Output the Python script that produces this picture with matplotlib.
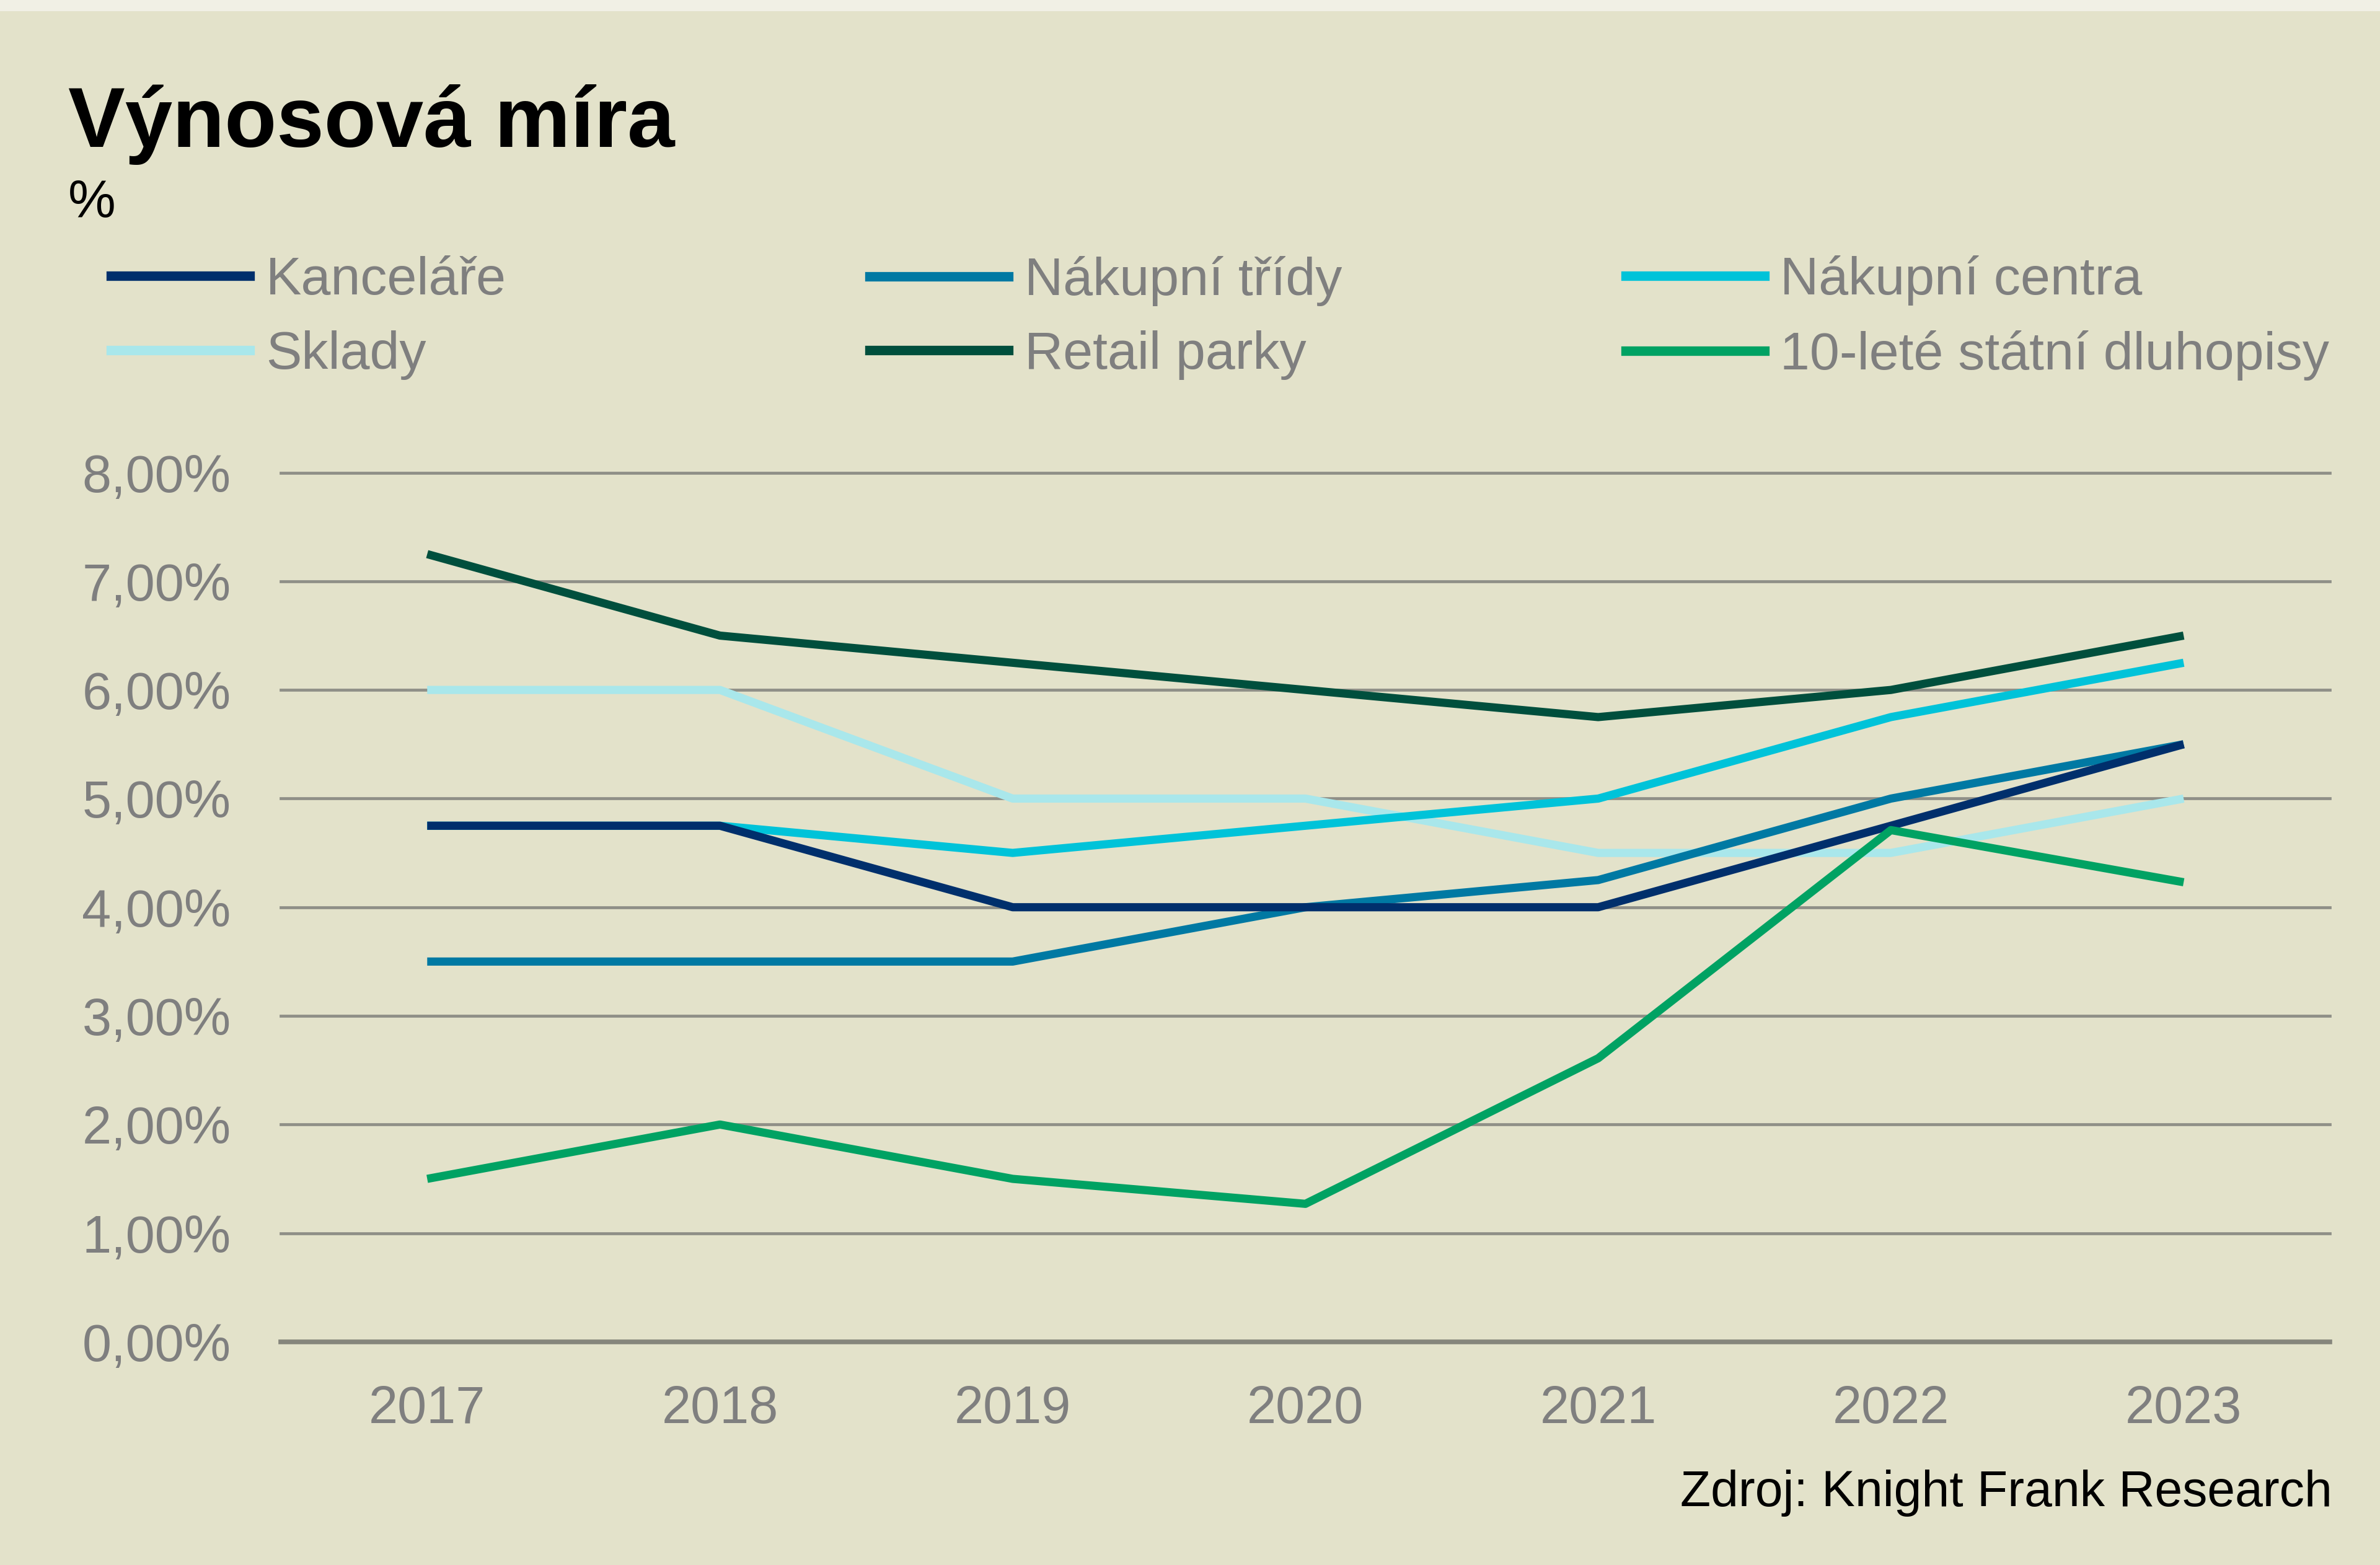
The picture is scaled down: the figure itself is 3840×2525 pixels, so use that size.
import matplotlib
matplotlib.use("Agg")
import matplotlib.pyplot as plt
from matplotlib.patches import Rectangle
from matplotlib.lines import Line2D

years = ["2017", "2018", "2019", "2020", "2021", "2022", "2023"]
kancelare = [4.75, 4.75, 4.00, 4.00, 4.00, 4.75, 5.50]
nakupni_tridy = [3.50, 3.50, 3.50, 4.00, 4.25, 5.00, 5.50]
nakupni_centra = [4.75, 4.75, 4.50, 4.75, 5.00, 5.75, 6.25]
sklady = [6.00, 6.00, 5.00, 5.00, 4.50, 4.50, 5.00]
retail_parky = [7.25, 6.50, 6.25, 6.00, 5.75, 6.00, 6.50]
dluhopisy = [1.50, 2.00, 1.50, 1.27, 2.61, 4.71, 4.23]

yticks = [0, 1, 2, 3, 4, 5, 6, 7, 8]
ytick_labels = ["0,00%", "1,00%", "2,00%", "3,00%", "4,00%", "5,00%", "6,00%", "7,00%", "8,00%"]

names = ["Kanceláře", "Nákupní třídy", "Nákupní centra", "Sklady", "Retail parky", "10-leté státní dluhopisy"]
colors = ["#002F6C", "#0079A3", "#00C3D9", "#A9E7EB", "#004F3D", "#00A263"]
series = [kancelare, nakupni_tridy, nakupni_centra, sklady, retail_parky, dluhopisy]

plt.rcParams['font.family'] = ['Liberation Sans', 'DejaVu Sans']
BG = "#E3E2CA"

fig = plt.figure(figsize=(38.4, 25.25), dpi=100, facecolor=BG)
fig.patches.append(Rectangle((0, 0.993), 1, 0.007, transform=fig.transFigure,
                             facecolor="#F1F0E5", edgecolor="none", zorder=0))

ax = fig.add_axes([0.118, 0.1426, 0.861, 0.5554])
ax.set_facecolor(BG)

x = list(range(len(years)))
order = [3, 2, 1, 0, 4, 5]
for i in order:
    ax.plot(x, series[i], color=colors[i], lw=9.5, solid_capstyle='butt',
            solid_joinstyle='round', zorder=3 + order.index(i), clip_on=False)

ax.set_xlim(-0.5, len(years) - 0.5)
ax.set_ylim(0, 8)
ax.set_yticks(yticks)
ax.set_yticklabels(ytick_labels)
ax.set_xticks(x)
ax.set_xticklabels(years)
for y in yticks[1:]:
    ax.axhline(y, color="#8F8F87", lw=3.4, zorder=1, clip_on=False)
ax.axhline(0, color="#86867C", lw=5.5, zorder=2, clip_on=False)

for s in ax.spines.values():
    s.set_visible(False)
ax.tick_params(axis='both', length=0, colors="#7F7F7F", labelsize=61)
ax.tick_params(axis='y', pad=58)
ax.tick_params(axis='x', pad=50)

# Title
fig.text(0.0287, 0.906, "Výnosová míra", fontsize=99, fontweight='bold', color="black",
         ha='left', va='baseline')
fig.text(0.0287, 0.861, "%", fontsize=62, color="black", ha='left', va='baseline')

# Legend: three columns, row-major
col_x = [0.0466, 0.3654, 0.683]
cols = [[0, 3], [1, 4], [2, 5]]
for cx, idxs in zip(col_x, cols):
    handles = [Line2D([0], [0], color=colors[i], lw=11) for i in idxs]
    labels = [names[i] for i in idxs]
    leg = fig.legend(handles, labels, loc='center left', bbox_to_anchor=(cx, 0.7968),
                     frameon=False, fontsize=62, handlelength=2.6, handletextpad=0.3,
                     labelspacing=0.46, borderpad=0, borderaxespad=0)
    for t in leg.get_texts():
        t.set_color("#7F7F7F")

fig.text(0.980, 0.0376, "Zdroj: Knight Frank Research", fontsize=58, color="black",
         ha='right', va='baseline')

fig.savefig("out.png", dpi=100, facecolor=BG)
